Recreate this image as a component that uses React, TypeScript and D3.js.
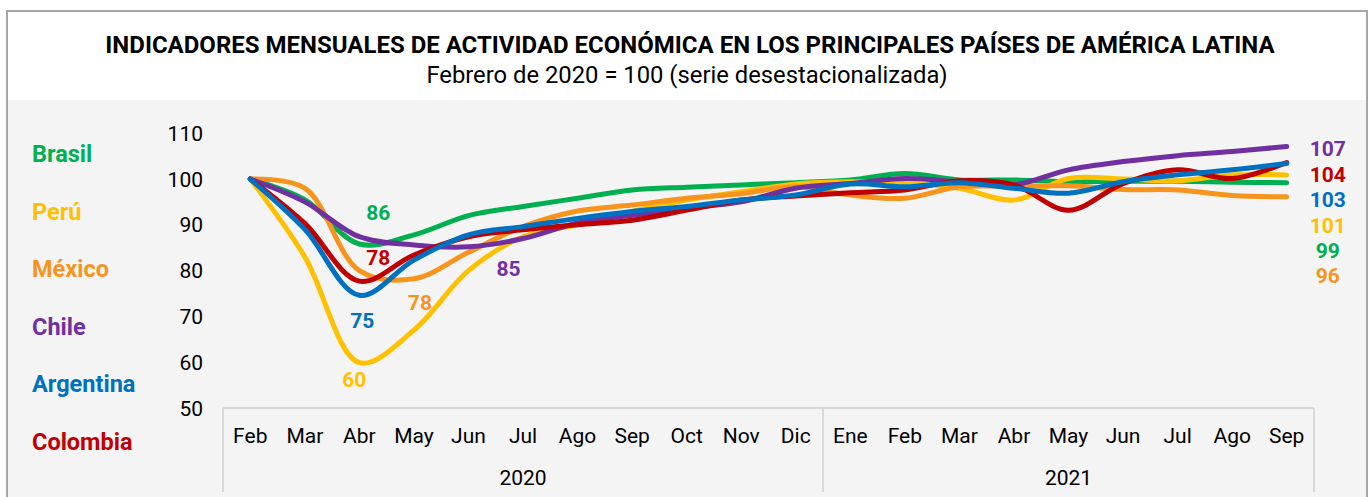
import React from "react";
import * as d3 from "d3";

const months2020 = ["Feb", "Mar", "Abr", "May", "Jun", "Jul", "Ago", "Sep", "Oct", "Nov", "Dic"];
const months2021 = ["Ene", "Feb", "Mar", "Abr", "May", "Jun", "Jul", "Ago", "Sep"];
const years = ["2020", "2021"];
const yTicks = [50, 60, 70, 80, 90, 100, 110];

const countries = ["Brasil", "Perú", "México", "Chile", "Argentina", "Colombia"];
const colors = ["#00B050", "#FFC000", "#F7941D", "#7030A0", "#0070C0", "#C00000"];

const brasil = [100, 95.5, 85.8, 87.8, 92.0, 94.0, 95.8, 97.6, 98.2, 98.7, 99.2, 99.8, 101.2, 99.8, 99.8, 99.4, 99.5, 99.5, 99.3, 99.2];
const peru = [100, 83.0, 59.9, 67.0, 80.0, 87.4, 90.0, 92.9, 95.4, 97.2, 98.9, 99.4, 99.0, 98.0, 95.4, 100.1, 100.0, 99.6, 100.9, 100.9];
const mexico = [100, 98.0, 80.0, 78.2, 84.0, 89.6, 93.0, 94.3, 95.8, 96.8, 98.3, 96.5, 95.8, 98.3, 98.4, 98.5, 97.7, 97.6, 96.4, 96.1];
const chile = [100, 95.0, 87.4, 85.6, 85.2, 87.0, 90.4, 92.1, 93.6, 95.0, 98.0, 99.0, 100.1, 99.4, 98.7, 102.0, 103.8, 105.1, 106.0, 107.1];
const argentina = [100, 89.0, 74.6, 82.3, 87.8, 89.6, 91.4, 92.9, 94.0, 95.4, 96.5, 98.9, 98.3, 99.2, 98.0, 96.9, 99.4, 100.9, 102.0, 103.4];
const colombia = [100, 90.3, 77.7, 83.4, 87.4, 88.9, 90.0, 91.0, 93.2, 95.4, 96.3, 97.0, 97.6, 99.6, 98.7, 93.2, 99.0, 102.0, 100.1, 103.6];

const seriesValues = [brasil, peru, mexico, chile, argentina, colombia];
const drawOrder = [0, 1, 2, 3, 5, 4];

// annotations: series index, month index
const annotations = [
  { s: 0, i: 2, dx: 19, dy: -24 },
  { s: 5, i: 2, dx: 19, dy: -16 },
  { s: 2, i: 3, dx: 6, dy: 31 },
  { s: 4, i: 2, dx: 3, dy: 33 },
  { s: 1, i: 2, dx: -5, dy: 24 },
  { s: 3, i: 4, dx: 40, dy: 29 },
];

const W = 1372;
const H = 497;
const FONT = "Roboto, 'Noto Sans', sans-serif";

export default function App() {
  const months = [...months2020, ...months2021];
  const n = months.length;
  const x = d3.scaleBand<number>().domain(d3.range(n)).range([223, 1314]).padding(0);
  const bw = x.bandwidth();
  const cx = (i: number) => (x(i) as number) + bw / 2;
  const y = d3.scaleLinear().domain([50, 110]).range([408, 133.2]);

  const line = d3
    .line<number>()
    .x((_, i) => cx(i))
    .y((d) => y(d))
    .curve(d3.curveCatmullRom.alpha(0.5));

  const axisY = y(50);
  const axisBottom = 492;
  const sepX = x(months2020.length) as number;
  const leftX = x(0) as number;
  const rightX = leftX + bw * n;

  const lastIdx = n - 1;
  const endOrder = d3.range(seriesValues.length).sort((a, b) => seriesValues[b][lastIdx] - seriesValues[a][lastIdx]);
  const endTop = y(seriesValues[endOrder[0]][lastIdx]) + 10;

  return (
    <svg width={W} height={H} style={{ position: "absolute", left: 0, top: 0 }} fontFamily={FONT}>
      <rect x={0} y={0} width={W} height={H} fill="#ffffff" />
      <rect x={7} y={11} width={1360} height={520} fill="#ffffff" stroke="#a6a6a6" strokeWidth={2} />
      <rect x={8} y={100} width={1358} height={420} fill="#f4f4f4" />

      <text x={690} y={53} textAnchor="middle" fontSize={24} fontWeight="bold" fill="#000">
        INDICADORES MENSUALES DE ACTIVIDAD ECONÓMICA EN LOS PRINCIPALES PAÍSES DE AMÉRICA LATINA
      </text>
      <text x={687} y={83} textAnchor="middle" fontSize={23.8} fill="#000">
        Febrero de 2020 = 100 (serie desestacionalizada)
      </text>

      {countries.map((c, k) => (
        <text key={c} x={32} y={162 + k * 57.6} fontSize={23.5} fontWeight="bold" fill={colors[k]}>
          {c}
        </text>
      ))}

      {yTicks.map((t) => (
        <text key={t} x={203} y={y(t) + 7.5} textAnchor="end" fontSize={21} fill="#000">
          {t}
        </text>
      ))}

      <g stroke="#d9d9d9" strokeWidth={2} fill="none">
        <line x1={leftX} x2={rightX} y1={axisY} y2={axisY} />
        <line x1={leftX} x2={leftX} y1={axisY} y2={axisBottom} />
        <line x1={sepX} x2={sepX} y1={axisY} y2={axisBottom} />
        <line x1={rightX} x2={rightX} y1={axisY} y2={axisBottom} />
      </g>
      {months.map((m, i) => (
        <text key={i} x={cx(i)} y={443} textAnchor="middle" fontSize={21} fill="#000">
          {m}
        </text>
      ))}
      <text x={(leftX + sepX) / 2} y={485} textAnchor="middle" fontSize={21} fill="#000">
        {years[0]}
      </text>
      <text x={(sepX + rightX) / 2} y={485} textAnchor="middle" fontSize={21} fill="#000">
        {years[1]}
      </text>

      {drawOrder.map((s) => (
        <path
          key={s}
          d={line(seriesValues[s]) as string}
          fill="none"
          stroke={colors[s]}
          strokeWidth={5}
          strokeLinecap="round"
          strokeLinejoin="round"
        />
      ))}

      {annotations.map((a, k) => (
        <text
          key={k}
          x={cx(a.i) + a.dx}
          y={y(seriesValues[a.s][a.i]) + a.dy}
          textAnchor="middle"
          fontSize={21}
          fontWeight="bold"
          fill={colors[a.s]}
        >
          {Math.round(seriesValues[a.s][a.i])}
        </text>
      ))}

      {endOrder.map((s, k) => (
        <text
          key={s}
          x={cx(lastIdx) + 41}
          y={endTop + k * 25.4}
          textAnchor="middle"
          fontSize={21}
          fontWeight="bold"
          fill={colors[s]}
        >
          {Math.round(seriesValues[s][lastIdx])}
        </text>
      ))}
    </svg>
  );
}
